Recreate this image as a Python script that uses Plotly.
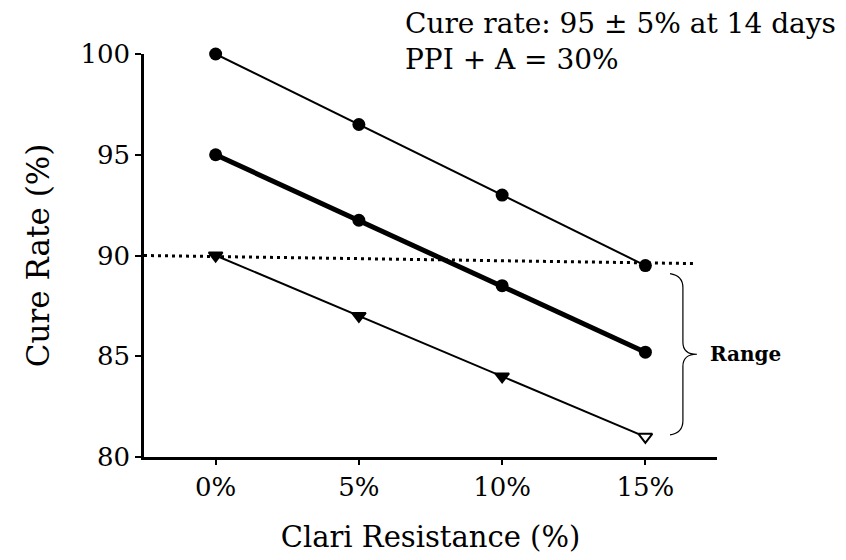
import plotly.graph_objects as go

# ---- data ----
x_vals = [0, 5, 10, 15]
x_labels = ["0%", "5%", "10%", "15%"]
upper = [100, 96.5, 93, 89.5]
central = [95, 91.75, 88.5, 85.2]
lower = [90, 87, 84, 81]
y_ticks = [80, 85, 90, 95, 100]
threshold = [90, 89.6]          # dotted reference line (left end, right end)

FONT = "DejaVu Serif, Liberation Serif, serif"

fig = go.Figure()

fig.add_trace(go.Scatter(x=x_vals, y=upper, mode="lines+markers",
                         line=dict(color="black", width=2),
                         marker=dict(symbol="circle", size=13, color="black"),
                         cliponaxis=False, showlegend=False))
fig.add_trace(go.Scatter(x=x_vals, y=central, mode="lines+markers",
                         line=dict(color="black", width=5),
                         marker=dict(symbol="circle", size=13, color="black"),
                         cliponaxis=False, showlegend=False))
fig.add_trace(go.Scatter(x=x_vals, y=lower, mode="lines+markers",
                         line=dict(color="black", width=2),
                         marker=dict(symbol="triangle-down", size=12,
                                     color=["black", "black", "black", "white"],
                                     line=dict(color="black", width=2)),
                         cliponaxis=False, showlegend=False))

# dotted threshold line
fig.add_shape(type="line", xref="x", yref="y", x0=-2.5, x1=16.7,
              y0=threshold[0], y1=threshold[1],
              line=dict(color="black", width=3, dash="3px,4px"), layer="below")

# brace for "Range"
brace = ("M 15.86,89.1 Q 16.31,89.0 16.31,88.4 L 16.31,85.7 "
         "Q 16.31,85.1 16.8,85.1 Q 16.31,85.1 16.31,84.5 "
         "L 16.31,81.8 Q 16.31,81.2 15.86,81.1")
fig.add_shape(type="path", xref="x", yref="y", path=brace,
              line=dict(color="black", width=1.2))

fig.add_annotation(x=17.2, y=85.1, xref="x", yref="y", text="<b>Range</b>",
                   showarrow=False, xanchor="left", yanchor="middle",
                   font=dict(family=FONT, size=20, color="black"))

fig.add_annotation(x=1.2104, y=1.03, xref="paper", yref="paper",
                   text="Cure rate: 95 ± 5% at 14 days<br>PPI + A = 30%",
                   showarrow=False, align="left",
                   xanchor="right", yanchor="middle",
                   font=dict(family=FONT, size=28, color="black"))

fig.update_xaxes(range=[-2.5, 17.5], tickvals=x_vals, ticktext=x_labels,
                 showline=True, linecolor="black", linewidth=2.5,
                 ticks="outside", ticklen=5, tickwidth=2, tickcolor="black",
                 showgrid=False, zeroline=False,
                 tickfont=dict(family=FONT, size=26, color="black"),
                 title=dict(text="Clari Resistance (%)", standoff=26,
                            font=dict(family=FONT, size=29, color="black")))
fig.update_yaxes(range=[80, 100], tickvals=y_ticks,
                 showline=True, linecolor="black", linewidth=2.5,
                 ticks="outside", ticklen=6, tickwidth=2, tickcolor="black",
                 showgrid=False, zeroline=False,
                 tickfont=dict(family=FONT, size=26, color="black"),
                 title=dict(text="Cure Rate (%)", standoff=22,
                            font=dict(family=FONT, size=31, color="black")))

# page body has an 8px default margin; offset margins so the plot area
# lands at x 142..717, y 54..457 in the window
fig.update_layout(width=846, height=560, paper_bgcolor="white", plot_bgcolor="white",
                  margin=dict(l=136, r=137, t=46, b=111))

fig.write_html("out.html")
